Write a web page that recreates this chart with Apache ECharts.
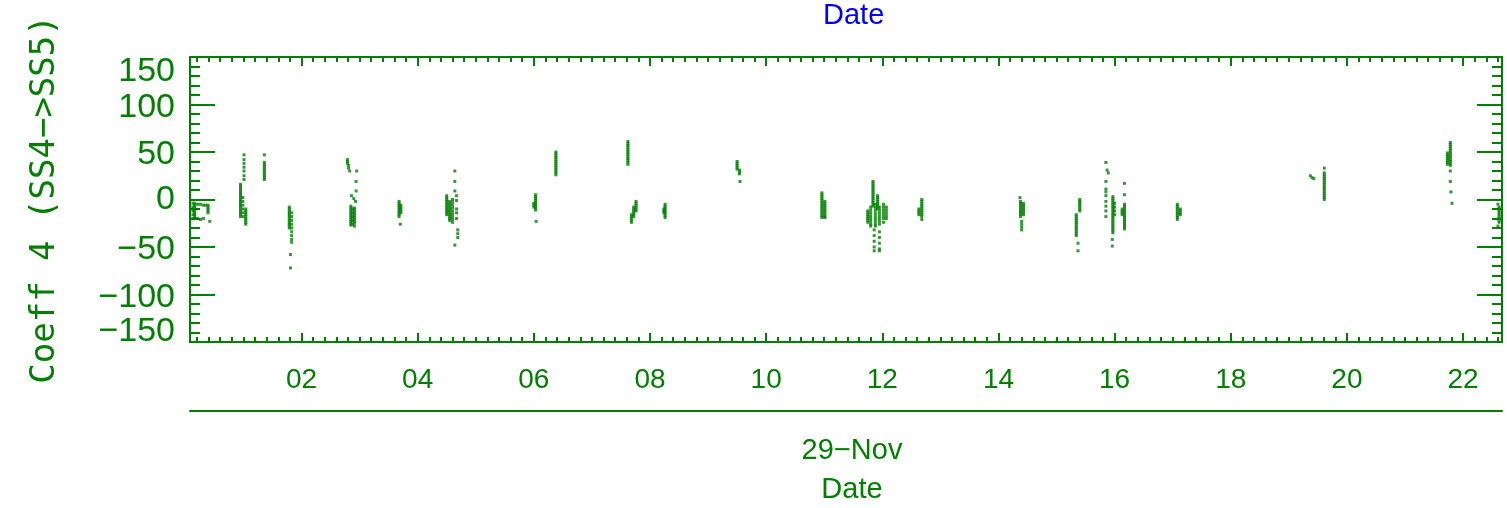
<!DOCTYPE html>
<html>
<head>
<meta charset="utf-8">
<script src="https://cdn.jsdelivr.net/npm/echarts@6/dist/echarts.min.js"></script>
<style>
  html, body { margin: 0; padding: 0; background: #fff; }
  #chart { width: 1507px; height: 508px; }
</style>
</head>
<body>
<div id="chart"></div>
<script>
// hour of day (29-Nov) -> list of Coeff 4 values read at that hour
var colsNight = [
  [0.13, [-4, -8, -12, -16, -20]],
  [0.16, [-4, -6, -8, -10, -12, -14, -16, -18, -20]],
  [0.21, [-5, -20]],
  [0.26, [-5, -21]],
  [0.31, [-6, -20]],
  [0.35, [-6]],
  [0.39, [-6, -8, -10, -12, -14]],
  [0.42, [-23]],
  [0.95, [16, 14, 12, 10, 8, 6, 4, 2, 0, -2, -4, -6, -8, -10, -12, -14, -16, -18]],
  [0.99, [2, -2, -6, -10, -14, -18]],
  [1.01, [47, 42, 38, 34, 30, 25, 21]],
  [1.04, [-10, -12, -14, -16, -18, -20, -22, -24, -26]],
  [1.36, [47, 39, 37, 35, 33, 31, 29, 27, 25, 23, 21]],
  [1.79, [-8, -10, -12, -14, -16, -18, -20, -22, -24, -26, -28, -30]],
  [1.81, [-58, -72]],
  [1.83, [-14, -18, -22, -26, -30, -34, -38, -42, -45]],
  [2.79, [42, 40, 38]],
  [2.81, [36, 33]],
  [2.83, [30]],
  [2.95, [30]],
  [2.94, [19, 9]],
  [2.86, [4]],
  [2.90, [1]],
  [2.93, [-2]],
  [2.85, [-7, -9, -11, -13, -15, -17, -19, -21, -23, -25, -27]],
  [2.88, [-10, -14, -18, -22, -26]],
  [2.91, [-9, -11, -13, -15, -17, -19, -21, -23, -25, -28]],
  [3.68, [-2, -4, -6, -8, -10, -12, -14, -16, -18]],
  [3.71, [-6, -8, -10, -12, -14]],
  [3.70, [-26]]
];

var colsMorning = [
  [4.50, [4, 2, 0, -2, -4, -6, -8, -10, -12, -14, -16]],
  [4.55, [-2, -4, -6, -8, -10, -12, -14, -16, -18, -20, -22]],
  [4.60, [0, -3, -6, -9, -12, -15, -18, -21, -24]],
  [4.64, [30, 19, 9, -48]],
  [4.67, [4, -1, -10, -14, -20]],
  [4.69, [-32, -36, -40]],
  [6.00, [-4, -6, -8]],
  [6.03, [5, 3, 1, -1, -3, -5, -7, -9, -11]],
  [6.04, [-23]],
  [6.38, [50, 48, 46, 44, 42, 40, 38, 36, 34, 32, 30, 28, 26]],
  [7.62, [61, 59, 57, 55, 53, 51, 49, 47, 45, 43, 41, 39, 37]],
  [7.68, [-16, -18, -20, -22, -24]],
  [7.72, [-8, -10, -12, -14, -16, -18]],
  [7.76, [-2, -4, -6, -8, -10, -12]]
];

var colsMidday = [
  [8.24, [-10, -12, -14]],
  [8.26, [-5, -7, -9, -11, -13, -15, -17, -19]],
  [9.50, [40, 38, 36, 34, 32]],
  [9.54, [31, 29, 27]],
  [9.55, [19]],
  [10.96, [7, 5, 3, 1, -1, -3, -5, -7, -9, -11, -13, -15, -17, -19]],
  [11.01, [-2, -4, -6, -8, -10, -12, -14, -16, -18, -19]],
  [11.75, [-12, -14, -16, -18, -20, -22, -24]],
  [11.80, [-8, -11, -14, -17, -20, -23, -26, -28]],
  [11.84, [19, 17, 15, 13, 11, 9, 7, 5, 3, 1, -1, -3, -5, -7]],
  [11.86, [-32, -38, -44, -50, -54]],
  [11.88, [-5, -8, -11, -14, -17, -20, -23, -26, -28]],
  [11.92, [4, 2, 0, -2, -4, -6, -8, -10]],
  [11.95, [-8, -11, -14, -17, -20, -23, -26, -34, -40, -46, -52, -54]],
  [12.02, [-5, -8, -11, -14, -17, -20, -24]],
  [12.07, [-8, -11, -14, -17, -20]],
  [12.63, [-10, -12, -14, -16]],
  [12.68, [0, -2, -4, -6, -8, -10, -12, -14, -16, -18, -21]]
];

var colsAfternoon = [
  [14.37, [2]],
  [14.38, [-2, -4, -6, -8, -10, -12, -14, -16, -18]],
  [14.43, [-4, -6, -8, -10, -12, -14, -16]],
  [14.40, [-23, -26, -29, -32]],
  [15.34, [-16, -18, -20, -22, -24, -26, -28, -30, -32, -34, -36, -38]],
  [15.37, [-46, -54]],
  [15.40, [0, -2, -4, -6, -8, -10, -12]],
  [15.85, [39, 19, 11, 8, 4, -2, -7, -12, -18]],
  [15.87, [31]],
  [15.89, [28]],
  [15.97, [3, 1, -1, -3, -5, -7, -9, -11, -13, -15, -17, -19, -21, -23, -25, -27, -29, -31, -33, -35]],
  [15.96, [-42, -49]],
  [16.00, [-4, -8, -12, -16]],
  [16.13, [-10, -12, -14, -16]],
  [16.17, [17, 5, -5, -7, -9, -11, -13, -15, -17, -19, -21, -23, -25, -27, -29, -31]],
  [17.08, [-5, -7, -9, -11, -13, -15, -17, -19, -21]],
  [17.13, [-10, -12, -14, -16]]
];

var colsEvening = [
  [19.37, [25]],
  [19.40, [23]],
  [19.43, [22]],
  [19.61, [33, 28, 26, 24, 22, 20, 18, 16, 14, 12, 10, 8, 6, 4, 2, 0]],
  [21.73, [49, 47, 45, 43, 41, 39, 37]],
  [21.78, [60, 58, 56, 54, 52, 50, 48, 46, 44, 42, 40, 38, 36, 30, 19]],
  [21.79, [8]],
  [21.81, [-4]],
  [22.60, [-5, -28]],
  [22.62, [-8, -10, -12, -14, -16, -18, -20, -22, -24]]
];

var xTickHours = [2, 4, 6, 8, 10, 12, 14, 16, 18, 20, 22];
var yTickValues = [-150, -100, -50, 0, 50, 100, 150];
var xMin = 0.08, xMax = 22.67;

var GREEN = "#008000";
var NARROW = "'Liberation Sans Narrow', 'Liberation Sans', sans-serif";

// flatten columns into [hour, value] points
var points = [];
[colsNight, colsMorning, colsMidday, colsAfternoon, colsEvening].forEach(function (cols) {
  cols.forEach(function (c) {
    c[1].forEach(function (v) {
      points.push([c[0], v]);
    });
  });
});

// minor x ticks every 12 minutes
var xMinorTicks = [];
for (var i = 1; i * 0.2 < xMax; i++) {
  var t = Math.round(i * 0.2 * 100) / 100;
  if (t > xMin) xMinorTicks.push(t);
}

function pad2(v) {
  return (v < 10 ? "0" : "") + v;
}

function yLabel(v) {
  var s = v < 0 ? "\u2212" + Math.abs(v) : String(v);
  if (v === 150) return "{lo|" + s + "}";
  if (v === -150) return "{hi|" + s + "}";
  if (v === 0) return "{n|" + s + "}";
  return "{dn|" + s + "}";
}

var yFont = { fontSize: 34, fontFamily: "'Liberation Sans', sans-serif", color: GREEN };

function xAxisBase(extra) {
  var base = {
    type: "value", min: xMin, max: xMax,
    axisLine: { show: false, onZero: false, lineStyle: { color: GREEN, width: 2 } },
    axisTick: { show: false },
    axisLabel: { show: false },
    splitLine: { show: false }
  };
  return Object.assign(base, extra);
}

var chart = echarts.init(document.getElementById("chart"));
chart.setOption({
  animation: false,
  backgroundColor: "#fff",
  title: {
    text: "Date",
    left: 818,
    top: -4,
    textStyle: { color: "#0000ff", fontSize: 29, fontWeight: "normal", fontFamily: NARROW }
  },
  grid: { left: 190, right: 5, top: 57, bottom: 166, outerBoundsMode: "none", containLabel: false },
  xAxis: [
    xAxisBase({
      position: "bottom",
      axisLine: { show: true, onZero: false, lineStyle: { color: GREEN, width: 2 } },
      axisTick: { show: true, inside: true, length: 9, customValues: xTickHours, lineStyle: { color: GREEN, width: 2 } },
      axisLabel: {
        show: true, customValues: xTickHours, margin: 24, formatter: pad2,
        color: GREEN, fontSize: 28, fontFamily: NARROW
      }
    }),
    xAxisBase({
      position: "bottom",
      axisTick: { show: true, inside: true, length: 5, customValues: xMinorTicks, lineStyle: { color: GREEN, width: 2 } }
    }),
    xAxisBase({
      position: "top",
      axisLine: { show: true, onZero: false, lineStyle: { color: GREEN, width: 2 } },
      axisTick: { show: true, inside: true, length: 9, customValues: xTickHours, lineStyle: { color: GREEN, width: 2 } }
    }),
    xAxisBase({
      position: "top",
      axisTick: { show: true, inside: true, length: 5, customValues: xMinorTicks, lineStyle: { color: GREEN, width: 2 } }
    }),
    xAxisBase({
      // date line below the hour labels
      position: "bottom", offset: 69,
      axisLine: { show: true, onZero: false, lineStyle: { color: GREEN, width: 2 } },
      name: "29\u2212Nov\nDate",
      nameLocation: "middle",
      nameGap: 20,
      nameTextStyle: {
        color: GREEN, fontSize: 29, fontFamily: NARROW, lineHeight: 39,
        padding: [0, 0, 0, 12]
      }
    })
  ],
  yAxis: [
    {
      type: "value", position: "left", min: -150, max: 150, interval: 50,
      axisLine: { show: true, onZero: false, lineStyle: { color: GREEN, width: 2 } },
      axisTick: { show: true, inside: true, length: 25, lineStyle: { color: GREEN, width: 2 } },
      minorTick: { show: true, splitNumber: 5, length: 10, lineStyle: { color: GREEN, width: 2 } },
      axisLabel: {
        show: true, margin: 15, customValues: yTickValues, formatter: yLabel,
        color: GREEN, fontSize: 34, fontFamily: yFont.fontFamily,
        rich: {
          lo: Object.assign({ padding: [30, 0, 0, 0] }, yFont),
          hi: Object.assign({ padding: [0, 0, 20, 0] }, yFont),
          dn: Object.assign({ padding: [6, 0, 0, 0] }, yFont),
          n: Object.assign({}, yFont)
        }
      },
      splitLine: { show: false },
      name: "Coeff 4 (SS4\u2212>SS5)",
      nameLocation: "middle",
      nameGap: 128,
      nameTextStyle: { color: GREEN, fontSize: 34, fontFamily: "'DejaVu Sans Mono', monospace" }
    },
    {
      type: "value", position: "right", min: -150, max: 150, interval: 50,
      axisLine: { show: true, onZero: false, lineStyle: { color: GREEN, width: 2 } },
      axisTick: { show: true, inside: true, length: 25, lineStyle: { color: GREEN, width: 2 } },
      minorTick: { show: true, splitNumber: 5, length: 10, lineStyle: { color: GREEN, width: 2 } },
      axisLabel: { show: false },
      splitLine: { show: false }
    }
  ],
  series: [
    {
      type: "scatter",
      xAxisIndex: 0,
      yAxisIndex: 0,
      symbol: "rect",
      symbolSize: 3,
      itemStyle: { color: GREEN },
      data: points
    }
  ]
});
</script>
</body>
</html>
